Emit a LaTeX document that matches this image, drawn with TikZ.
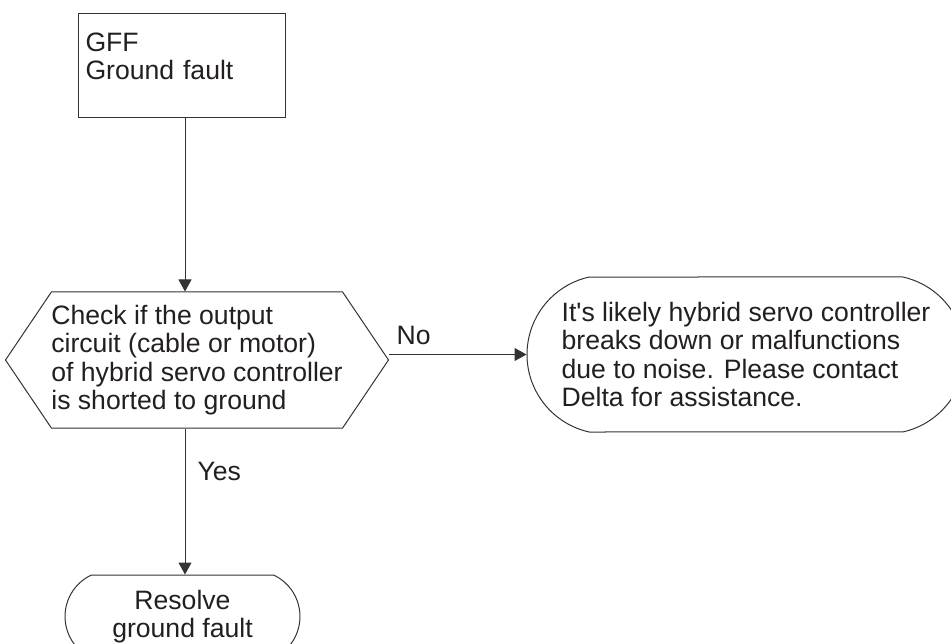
\documentclass[tikz,border=0pt]{standalone}
\usepackage{fontspec}
\setmainfont{Liberation Sans}
\usetikzlibrary{arrows.meta,positioning,shapes.misc,shapes.symbols}
\definecolor{ink}{HTML}{231F20}
\definecolor{edgeline}{HTML}{333333}

\begin{document}
\begin{tikzpicture}[
  x=1pt, y=-1pt,
  every node/.style={font=\fontsize{26.6}{28.3}\selectfont, text=ink},
  box/.style={rectangle, draw=edgeline, line width=1pt, align=left,
    text width=193pt, inner xsep=7pt, inner ysep=0pt},
  test/.style={signal, signal to=west and east, signal pointer angle=112,
    draw=edgeline, line width=1pt, align=left, minimum width=376pt,
    minimum height=136pt, inner sep=0pt},
  term/.style={rounded rectangle, rounded rectangle arc length=155,
    draw=edgeline, line width=1pt, inner sep=0pt},
  arr/.style={-{Triangle[length=12pt,width=13pt]}, line width=1pt, draw=edgeline},
  lbl/.style={inner sep=0pt},
]
\useasboundingbox (0,0) rectangle (951,644);
\coordinate (spine) at (185,0);

\node[box, anchor=north west, text height=38pt, text depth=66pt] (gff) at (78,13)
  {GFF\\Ground fault};
\node[test] (check) at (197,360)
  {Check if the output\\circuit (cable or motor)\\of hybrid servo controller\\is shorted to ground};
\node[term, align=left, minimum width=438pt, minimum height=155pt] (likely) at (746,354.5)
  {It\textquotesingle s likely hybrid servo controller\\breaks down or malfunctions\\due to noise. Please contact\\Delta for assistance.};
\node[term, align=center, minimum width=235pt, minimum height=83pt,
  rounded rectangle arc length=130] (resolve) at (182.5,616.5)
  {Resolve\\ground fault};

\draw[arr] (gff.south -| spine) -- (check.north -| spine);
\draw[arr] (check.south -| spine) --
  node[lbl, pos=0.354, anchor=base west, xshift=12pt]{Yes} (resolve.north -| spine);
\draw[arr] (likely.west -| check.east) --
  node[lbl, pos=0, anchor=base west, xshift=7pt, yshift=9.5pt]{No} (likely.west);
\end{tikzpicture}
\end{document}
